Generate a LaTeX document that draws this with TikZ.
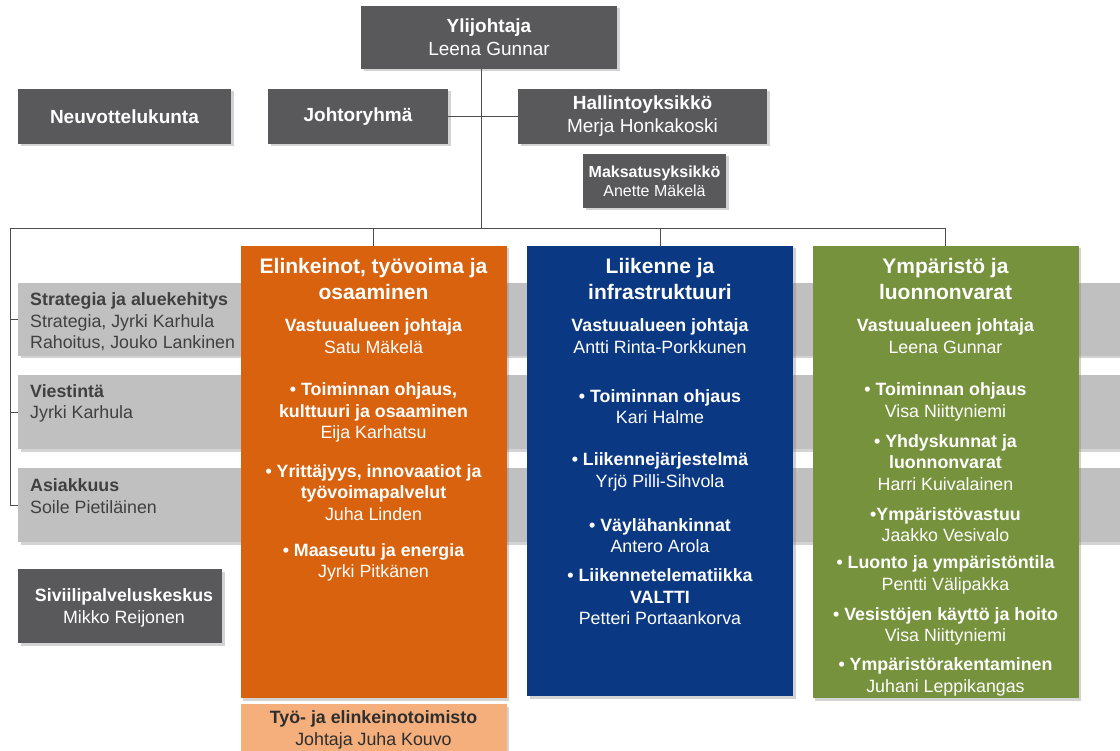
\documentclass[tikz,border=0pt]{standalone}
\usepackage{fontspec}
\setmainfont{Liberation Sans}
\usetikzlibrary{shadows}
\definecolor{boxgray}{HTML}{59595B}
\definecolor{bandgray}{HTML}{C0C0C0}
\definecolor{bandtext}{HTML}{404040}
\definecolor{linegray}{HTML}{4D4D4D}
\definecolor{elyorange}{HTML}{D8620E}
\definecolor{teorange}{HTML}{F4AF7C}
\definecolor{elyblue}{HTML}{0B3883}
\definecolor{elygreen}{HTML}{76923C}
\begin{document}
\begin{tikzpicture}[x=1pt, y=-1pt,
    boxshadow/.style={drop shadow={shadow xshift=2.5pt, shadow yshift=-2.5pt, opacity=0.35}},
    topbox/.style={boxshadow, fill=boxgray, text=white, inner sep=0pt, align=center, font=\fontsize{19}{23}\selectfont},
    band/.style={boxshadow, fill=bandgray, inner sep=0pt, minimum width=1102pt, minimum height=74pt, anchor=west},
    bandtxt/.style={text=bandtext, align=left, anchor=west, inner sep=0pt, font=\fontsize{17.8}{21.5}\selectfont},
    column/.style={boxshadow, inner sep=0pt, minimum width=266pt, minimum height=452pt},
    coltitle/.style={text=white, align=center, inner sep=0pt, font=\bfseries\fontsize{21}{26}\selectfont},
    item/.style={text=white, align=center, inner sep=0pt, font=\bfseries\fontsize{17.8}{21.5}\selectfont},
    link/.style={draw=linegray, line width=0.9pt},
]
\useasboundingbox (0,0) rectangle (1120,751);

% Top level
\node[topbox, minimum width=256pt, minimum height=63pt] (ylij) at (489,37.5) {\textbf{Ylijohtaja}\\Leena Gunnar};
\node[topbox, minimum width=213pt, minimum height=55pt] (neuvo) at (124.5,116.5) {\textbf{Neuvottelukunta}};
\node[topbox, minimum width=180pt, minimum height=55pt] (johto) at (358,116.5) {\textbf{Johtoryhmä}};
\node[topbox, minimum width=249pt, minimum height=55pt] (hallinto) at (642.5,116.5) {\textbf{Hallintoyksikkö}\\Merja Honkakoski};
\node[topbox, minimum width=143pt, minimum height=54pt, font=\fontsize{16}{19}\selectfont] (maksu) at (654.5,181) {\textbf{Maksatusyksikkö}\\Anette Mäkelä};

% Staff bands
\node[band, minimum height=73pt] (strat) at (18,319.5) {};
\node[band] (viest) at (18,412) {};
\node[band] (asiak) at (18,505) {};
\node[bandtxt] (stratTxt) at (30,322) {\textbf{Strategia ja aluekehitys}\\Strategia, Jyrki Karhula\\Rahoitus, Jouko Lankinen};
\node[bandtxt] (viestTxt) at (30,403.5) {\textbf{Viestintä}\\Jyrki Karhula};
\node[bandtxt] (asiakTxt) at (30,496) {\textbf{Asiakkuus}\\Soile Pietiläinen};

\node[topbox, minimum width=204pt, minimum height=74pt, font=\fontsize{17.8}{21.5}\selectfont] (sivii) at (120,606) {};
\node[text=white, align=center, inner sep=0pt, font=\fontsize{17.8}{21.5}\selectfont] (siviiTxt) at (124,608) {\textbf{Siviilipalveluskeskus}\\Mikko Reijonen};

% Responsibility areas
\node[column, fill=elyorange] (elink) at (373.5,472) {};
\node[column, fill=elyblue, minimum height=450pt] (liik) at (660,471) {};
\node[column, fill=elygreen] (ymp) at (945.5,472) {};
\node[column, fill=teorange, minimum height=60pt] (teto) at (373.5,734) {};

\node[coltitle] (elinkT) at (373.5,279) {Elinkeinot, työvoima ja\\osaaminen};
\node[coltitle] (liikT) at (660,278.5) {Liikenne ja\\infrastruktuuri};
\node[coltitle] (ympT) at (945.5,279) {Ympäristö ja\\luonnonvarat};

\foreach \y/\txt [count=\i] in {336/{Vastuualueen johtaja\\\textmd{Satu Mäkelä}},
    412.5/{• Toiminnan ohjaus,\\kulttuuri ja osaaminen\\\textmd{Eija Karhatsu}},
    492.5/{• Yrittäjyys, innovaatiot ja\\työvoimapalvelut\\\textmd{Juha Linden}},
    562.5/{• Maaseutu ja energia\\\textmd{Jyrki Pitkänen}}} {
    \node[item] (elink\i) at (373.5,\y) {\txt};
}
\foreach \y/\txt [count=\i] in {336/{Vastuualueen johtaja\\\textmd{Antti Rinta-Porkkunen}},
    406.5/{• Toiminnan ohjaus\\\textmd{Kari Halme}},
    472/{• Liikennejärjestelmä\\\textmd{Yrjö Pilli-Sihvola}},
    535.5/{• Väylähankinnat\\\textmd{Antero Arola}},
    597/{• Liikennetelematiikka\\VALTTI\\\textmd{Petteri Portaankorva}}} {
    \node[item] (liik\i) at (660,\y) {\txt};
}
\foreach \y/\txt [count=\i] in {336/{Vastuualueen johtaja\\\textmd{Leena Gunnar}},
    402/{• Toiminnan ohjaus\\\textmd{Visa Niittyniemi}},
    462.5/{• Yhdyskunnat ja\\luonnonvarat\\\textmd{Harri Kuivalainen}},
    524.5/{•Ympäristövastuu\\\textmd{Jaakko Vesivalo}},
    575/{• Luonto ja ympäristöntila\\\textmd{Pentti Välipakka}},
    626.5/{• Vesistöjen käyttö ja hoito\\\textmd{Visa Niittyniemi}},
    677/{• Ympäristörakentaminen\\\textmd{Juhani Leppikangas}}} {
    \node[item] (ymp\i) at (945.5,\y) {\txt};
}
\node[item, text=black!82] (tetoTxt) at (373.5,730) {Työ- ja elinkeinotoimisto\\\textmd{Johtaja Juha Kouvo}};

% Connectors
\coordinate (hub) at (481,228);
\coordinate (busL) at (10,228);
\draw[link] (ylij.south -| hub) -- (hub);
\draw[link] (johto) -- (hallinto);
\draw[link] (busL) -- (ymp.north |- busL) -- (ymp.north);
\draw[link] (elink.north |- busL) -- (elink.north);
\draw[link] (liik.north |- busL) -- (liik.north);
\draw[link] (busL) |- (asiak.west);
\draw[link] (strat.west -| busL) -- (strat.west);
\draw[link] (viest.west -| busL) -- (viest.west);
\end{tikzpicture}
\end{document}
